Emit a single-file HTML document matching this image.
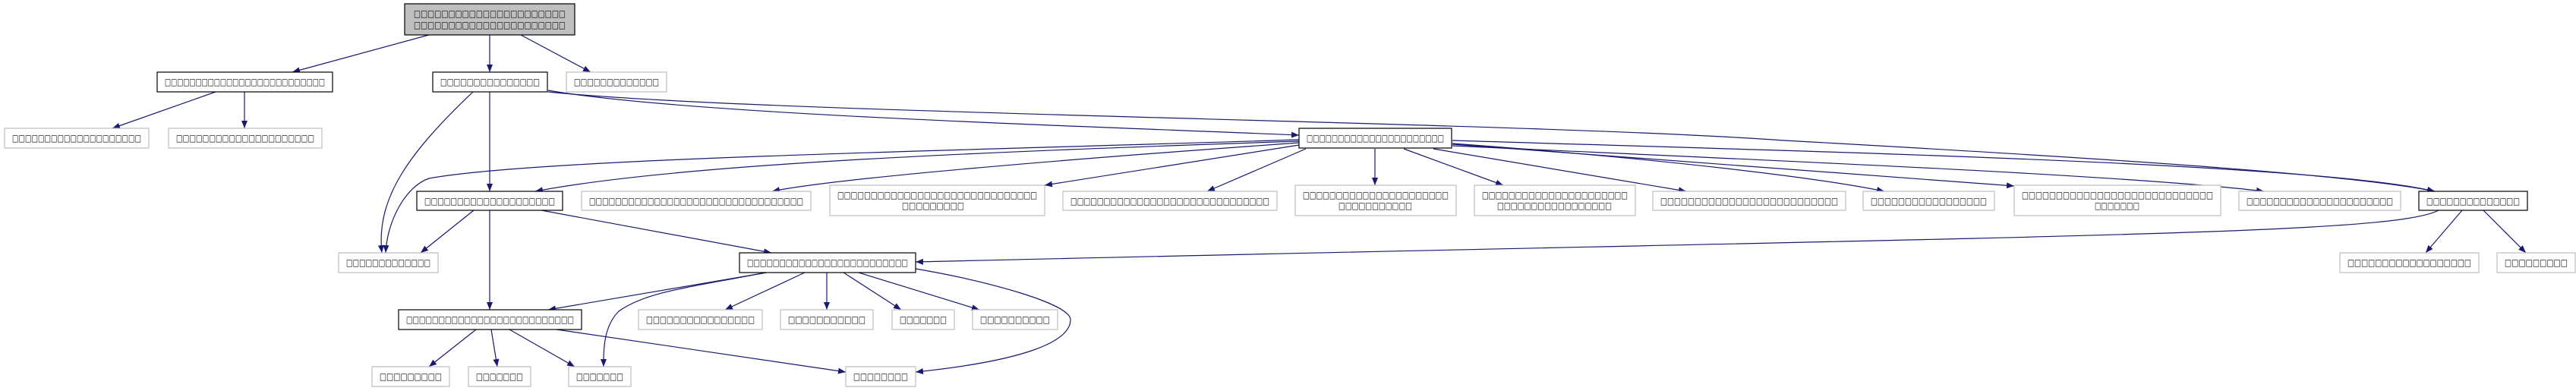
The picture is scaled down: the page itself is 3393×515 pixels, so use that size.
<!DOCTYPE html>
<html><head><meta charset="utf-8"><style>
html,body{margin:0;padding:0;background:#fff;}
svg{display:block;}
text{font-family:"DejaVu Sans","Liberation Sans",sans-serif;font-size:12px;fill:#000;}
.n{fill:#fff;stroke:#000;stroke-width:1.2;}
.g{fill:#fff;stroke:#bfbfbf;stroke-width:1.2;}
.e{fill:none;stroke:#191970;stroke-width:1.2;}
</style></head><body>
<svg width="3393" height="515" viewBox="0 0 3393 515" xmlns="http://www.w3.org/2000/svg">
<defs><marker id="a" markerWidth="10" markerHeight="8" refX="10" refY="4" orient="auto" markerUnits="userSpaceOnUse"><path d="M0,0 L10,4 L0,8 z" fill="#191970"/></marker></defs>
<g class="e" marker-end="url(#a)">
<path d="M565,46 L385,95"/>
<path d="M645,46 L645,95"/>
<path d="M686,46 L778,95"/>
<path d="M284,121 L148,169"/>
<path d="M322,121 L322,169"/>
<path d="M623,121 C540,200 495,260 503,333"/>
<path d="M645,121 L645,252"/>
<path d="M722,119 C900,150 1400,165 1711,178"/>
<path d="M722,121 C1000,150 2000,160 2350,185 C2800,210 3100,230 3207,252"/>
<path d="M1711,184 C1200,200 700,210 565,235 C535,245 510,290 508,333"/>
<path d="M1711,186 C1300,200 900,215 705,252"/>
<path d="M1711,188 C1400,210 1100,235 1017,252"/>
<path d="M1711,191 L1376,244"/>
<path d="M1720,196 L1590,252"/>
<path d="M1811,196 L1811,244"/>
<path d="M1849,196 L1980,244"/>
<path d="M1888,196 L2221,252"/>
<path d="M1913,189 C2200,210 2400,235 2482,252"/>
<path d="M1913,190 L2653,245"/>
<path d="M1913,192 C2300,210 2800,230 2982,252"/>
<path d="M1913,185 C2400,200 3050,215 3207,252"/>
<path d="M3212,277 C3150,310 2700,310 1206,345"/>
<path d="M3243,277 L3195,333"/>
<path d="M3271,277 L3327,333"/>
<path d="M624,277 L554,333"/>
<path d="M645,277 L645,408"/>
<path d="M713,277 L1016,333"/>
<path d="M1010,359 L722,408"/>
<path d="M1003,360 C900,380 850,385 815,410 C795,430 795,460 795,483"/>
<path d="M1060,359 L955,408"/>
<path d="M1089,359 L1089,408"/>
<path d="M1111,359 L1187,408"/>
<path d="M1131,359 L1290,408"/>
<path d="M1206,354 C1300,370 1410,400 1410,421 C1410,450 1350,475 1206,490"/>
<path d="M627,434 L565,483"/>
<path d="M647,434 L655,483"/>
<path d="M671,434 L757,483"/>
<path d="M733,434 L1114,490"/>
</g>
<!-- nodes -->
<rect x="533" y="5" width="224" height="41" fill="#bfbfbf" stroke="#000" stroke-width="1.2"/>
<text x="545" y="22" textLength="200" lengthAdjust="spacingAndGlyphs">□□□□□□□□□□□□□□□□□□□□□□</text>
<text x="545" y="37" textLength="200" lengthAdjust="spacingAndGlyphs">□□□□□□□□□□□□□□□□□□□□□□</text>

<rect class="n" x="207" y="95" width="231" height="26"/><text x="217" y="112" textLength="211" lengthAdjust="spacingAndGlyphs">□□□□□□□□□□□□□□□□□□□□□□□□□□</text>
<rect class="n" x="570" y="95" width="151" height="26"/><text x="580" y="112" textLength="131" lengthAdjust="spacingAndGlyphs">□□□□□□□□□□□□□□□</text>
<rect class="g" x="746" y="95" width="132" height="26"/><text x="756" y="112" textLength="112" lengthAdjust="spacingAndGlyphs">□□□□□□□□□□□□□</text>
<rect class="g" x="6" y="169" width="190" height="26"/><text x="16" y="186" textLength="170" lengthAdjust="spacingAndGlyphs">□□□□□□□□□□□□□□□□□□□□</text>
<rect class="g" x="222" y="169" width="202" height="26"/><text x="232" y="186" textLength="182" lengthAdjust="spacingAndGlyphs">□□□□□□□□□□□□□□□□□□□□□</text>
<rect class="n" x="1711" y="169" width="201" height="26"/><text x="1721" y="186" textLength="181" lengthAdjust="spacingAndGlyphs">□□□□□□□□□□□□□□□□□□□□□□</text>

<rect class="n" x="549" y="252" width="192" height="25"/><text x="559" y="269" textLength="172" lengthAdjust="spacingAndGlyphs">□□□□□□□□□□□□□□□□□□□□</text>
<rect class="g" x="766" y="252" width="302" height="25"/><text x="776" y="269" textLength="282" lengthAdjust="spacingAndGlyphs">□□□□□□□□□□□□□□□□□□□□□□□□□□□□□□□□□</text>
<rect class="g" x="1093" y="244" width="283" height="40"/><text x="1103" y="261" textLength="263" lengthAdjust="spacingAndGlyphs">□□□□□□□□□□□□□□□□□□□□□□□□□□□□□□</text><text x="1188" y="275" textLength="82" lengthAdjust="spacingAndGlyphs">□□□□□□□□□</text>
<rect class="g" x="1400" y="252" width="282" height="25"/><text x="1410" y="269" textLength="262" lengthAdjust="spacingAndGlyphs">□□□□□□□□□□□□□□□□□□□□□□□□□□□□□□</text>
<rect class="g" x="1706" y="244" width="212" height="40"/><text x="1716" y="261" textLength="192" lengthAdjust="spacingAndGlyphs">□□□□□□□□□□□□□□□□□□□□□□</text><text x="1763" y="275" textLength="97" lengthAdjust="spacingAndGlyphs">□□□□□□□□□□□</text>
<rect class="g" x="1942" y="244" width="212" height="40"/><text x="1952" y="261" textLength="192" lengthAdjust="spacingAndGlyphs">□□□□□□□□□□□□□□□□□□□□□□</text><text x="1972" y="275" textLength="151" lengthAdjust="spacingAndGlyphs">□□□□□□□□□□□□□□□□□</text>
<rect class="g" x="2177" y="252" width="254" height="25"/><text x="2187" y="269" textLength="234" lengthAdjust="spacingAndGlyphs">□□□□□□□□□□□□□□□□□□□□□□□□□□</text>
<rect class="g" x="2454" y="252" width="173" height="25"/><text x="2464" y="269" textLength="153" lengthAdjust="spacingAndGlyphs">□□□□□□□□□□□□□□□□□</text>
<rect class="g" x="2653" y="244" width="272" height="40"/><text x="2663" y="261" textLength="252" lengthAdjust="spacingAndGlyphs">□□□□□□□□□□□□□□□□□□□□□□□□□□□□</text><text x="2759" y="275" textLength="59" lengthAdjust="spacingAndGlyphs">□□□□□□□</text>
<rect class="g" x="2949" y="252" width="213" height="25"/><text x="2959" y="269" textLength="193" lengthAdjust="spacingAndGlyphs">□□□□□□□□□□□□□□□□□□□□□□</text>
<rect class="n" x="3186" y="252" width="143" height="25"/><text x="3196" y="269" textLength="123" lengthAdjust="spacingAndGlyphs">□□□□□□□□□□□□□□</text>

<rect class="g" x="446" y="333" width="131" height="26"/><text x="456" y="350" textLength="111" lengthAdjust="spacingAndGlyphs">□□□□□□□□□□□□□</text>
<rect class="n" x="974" y="333" width="232" height="26"/><text x="984" y="350" textLength="212" lengthAdjust="spacingAndGlyphs">□□□□□□□□□□□□□□□□□□□□□□□□□</text>
<rect class="g" x="3082" y="333" width="183" height="26"/><text x="3092" y="350" textLength="163" lengthAdjust="spacingAndGlyphs">□□□□□□□□□□□□□□□□□□</text>
<rect class="g" x="3289" y="333" width="103" height="26"/><text x="3299" y="350" textLength="83" lengthAdjust="spacingAndGlyphs">□□□□□□□□□</text>

<rect class="n" x="525" y="408" width="241" height="26"/><text x="535" y="425" textLength="221" lengthAdjust="spacingAndGlyphs">□□□□□□□□□□□□□□□□□□□□□□□□□□</text>
<rect class="g" x="841" y="408" width="163" height="26"/><text x="851" y="425" textLength="143" lengthAdjust="spacingAndGlyphs">□□□□□□□□□□□□□□□□</text>
<rect class="g" x="1028" y="408" width="122" height="26"/><text x="1038" y="425" textLength="102" lengthAdjust="spacingAndGlyphs">□□□□□□□□□□□</text>
<rect class="g" x="1175" y="408" width="82" height="26"/><text x="1185" y="425" textLength="62" lengthAdjust="spacingAndGlyphs">□□□□□□□</text>
<rect class="g" x="1281" y="408" width="112" height="26"/><text x="1291" y="425" textLength="92" lengthAdjust="spacingAndGlyphs">□□□□□□□□□□</text>

<rect class="g" x="490" y="483" width="102" height="26"/><text x="500" y="500" textLength="82" lengthAdjust="spacingAndGlyphs">□□□□□□□□□</text>
<rect class="g" x="617" y="483" width="82" height="26"/><text x="627" y="500" textLength="62" lengthAdjust="spacingAndGlyphs">□□□□□□□</text>
<rect class="g" x="749" y="483" width="82" height="26"/><text x="759" y="500" textLength="62" lengthAdjust="spacingAndGlyphs">□□□□□□□</text>
<rect class="g" x="1114" y="483" width="92" height="26"/><text x="1124" y="500" textLength="72" lengthAdjust="spacingAndGlyphs">□□□□□□□□</text>
</svg>
</body></html>
